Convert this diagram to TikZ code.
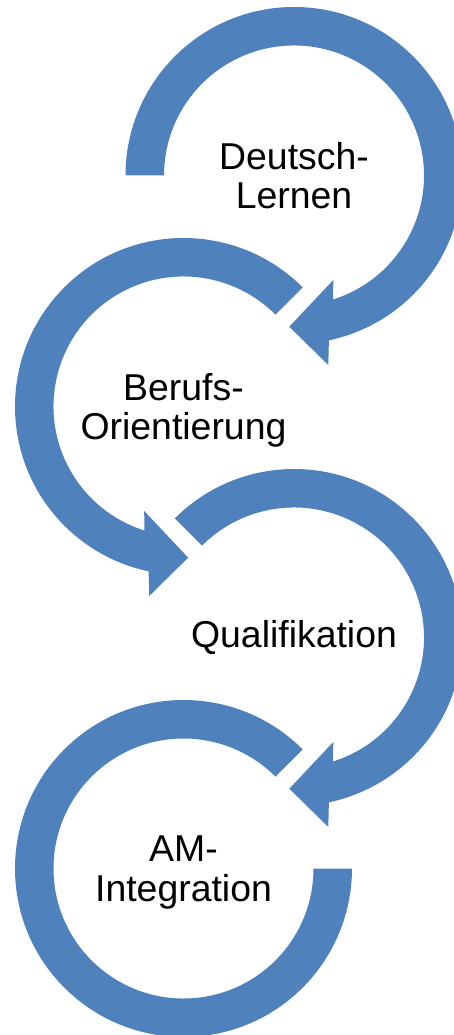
\documentclass[tikz,border=0pt]{standalone}
\usepackage{fontspec}
\setmainfont{Liberation Sans}
\definecolor{ringblue}{RGB}{79,129,189}
\begin{document}
\begin{tikzpicture}[x=1pt,y=1pt,
  ring/.style={fill=ringblue,draw=none},
  lbl/.style={align=center,font=\fontsize{37.4}{39.5}\selectfont,inner sep=0pt,text=black}]
\useasboundingbox (0,0) rectangle (454,-1035);
\clip (0,0) rectangle (454,-1035);
\def\Ro{168.5pt}\def\Ri{130pt}
% ring 1 (clockwise, arrow at bottom pointing left)
\begin{scope}[shift={(294,-175.5)}]
\path[ring] (180:\Ro) arc[start angle=180,end angle=-78.05,radius=\Ro]
  -- (34.3,-189.5) -- (-4.7,-151.2) -- (39.3,-104.5)
  -- (-72.5:\Ri) arc[start angle=-72.5,end angle=180,radius=\Ri] -- cycle;
\end{scope}
% ring 2 (counter-clockwise, arrow at bottom pointing right)
\begin{scope}[shift={(183.5,-406.5)}]
\path[ring] (45:\Ro) arc[start angle=45,end angle=258.05,radius=\Ro]
  -- (-34.3,-189.5) -- (4.7,-151.2) -- (-39.3,-104.5)
  -- (252.5:\Ri) arc[start angle=252.5,end angle=45,radius=\Ri] -- cycle;
\end{scope}
% ring 3
\begin{scope}[shift={(294,-637.5)}]
\path[ring] (135:\Ro) arc[start angle=135,end angle=-78.05,radius=\Ro]
  -- (34.3,-189.5) -- (-4.7,-151.2) -- (39.3,-104.5)
  -- (-72.5:\Ri) arc[start angle=-72.5,end angle=135,radius=\Ri] -- cycle;
\end{scope}
% ring 4 (no arrow)
\begin{scope}[shift={(183.5,-868.5)}]
\path[ring] (45:\Ro) arc[start angle=45,end angle=360,radius=\Ro]
  -- (0:\Ri) arc[start angle=360,end angle=45,radius=\Ri] -- cycle;
\end{scope}
\node[lbl] (t1) at (294,-175.5) {Deutsch-\\Lernen};
\node[lbl,yshift=-4pt] (t2) at (183.5,-406.5) {Berufs-\\Orientierung};
\node[lbl] (t3) at (294,-637.5) {Qualifikation};
\node[lbl,yshift=-4pt] (t4) at (183.5,-868.5) {AM-\\Integration};
\end{tikzpicture}
\end{document}
